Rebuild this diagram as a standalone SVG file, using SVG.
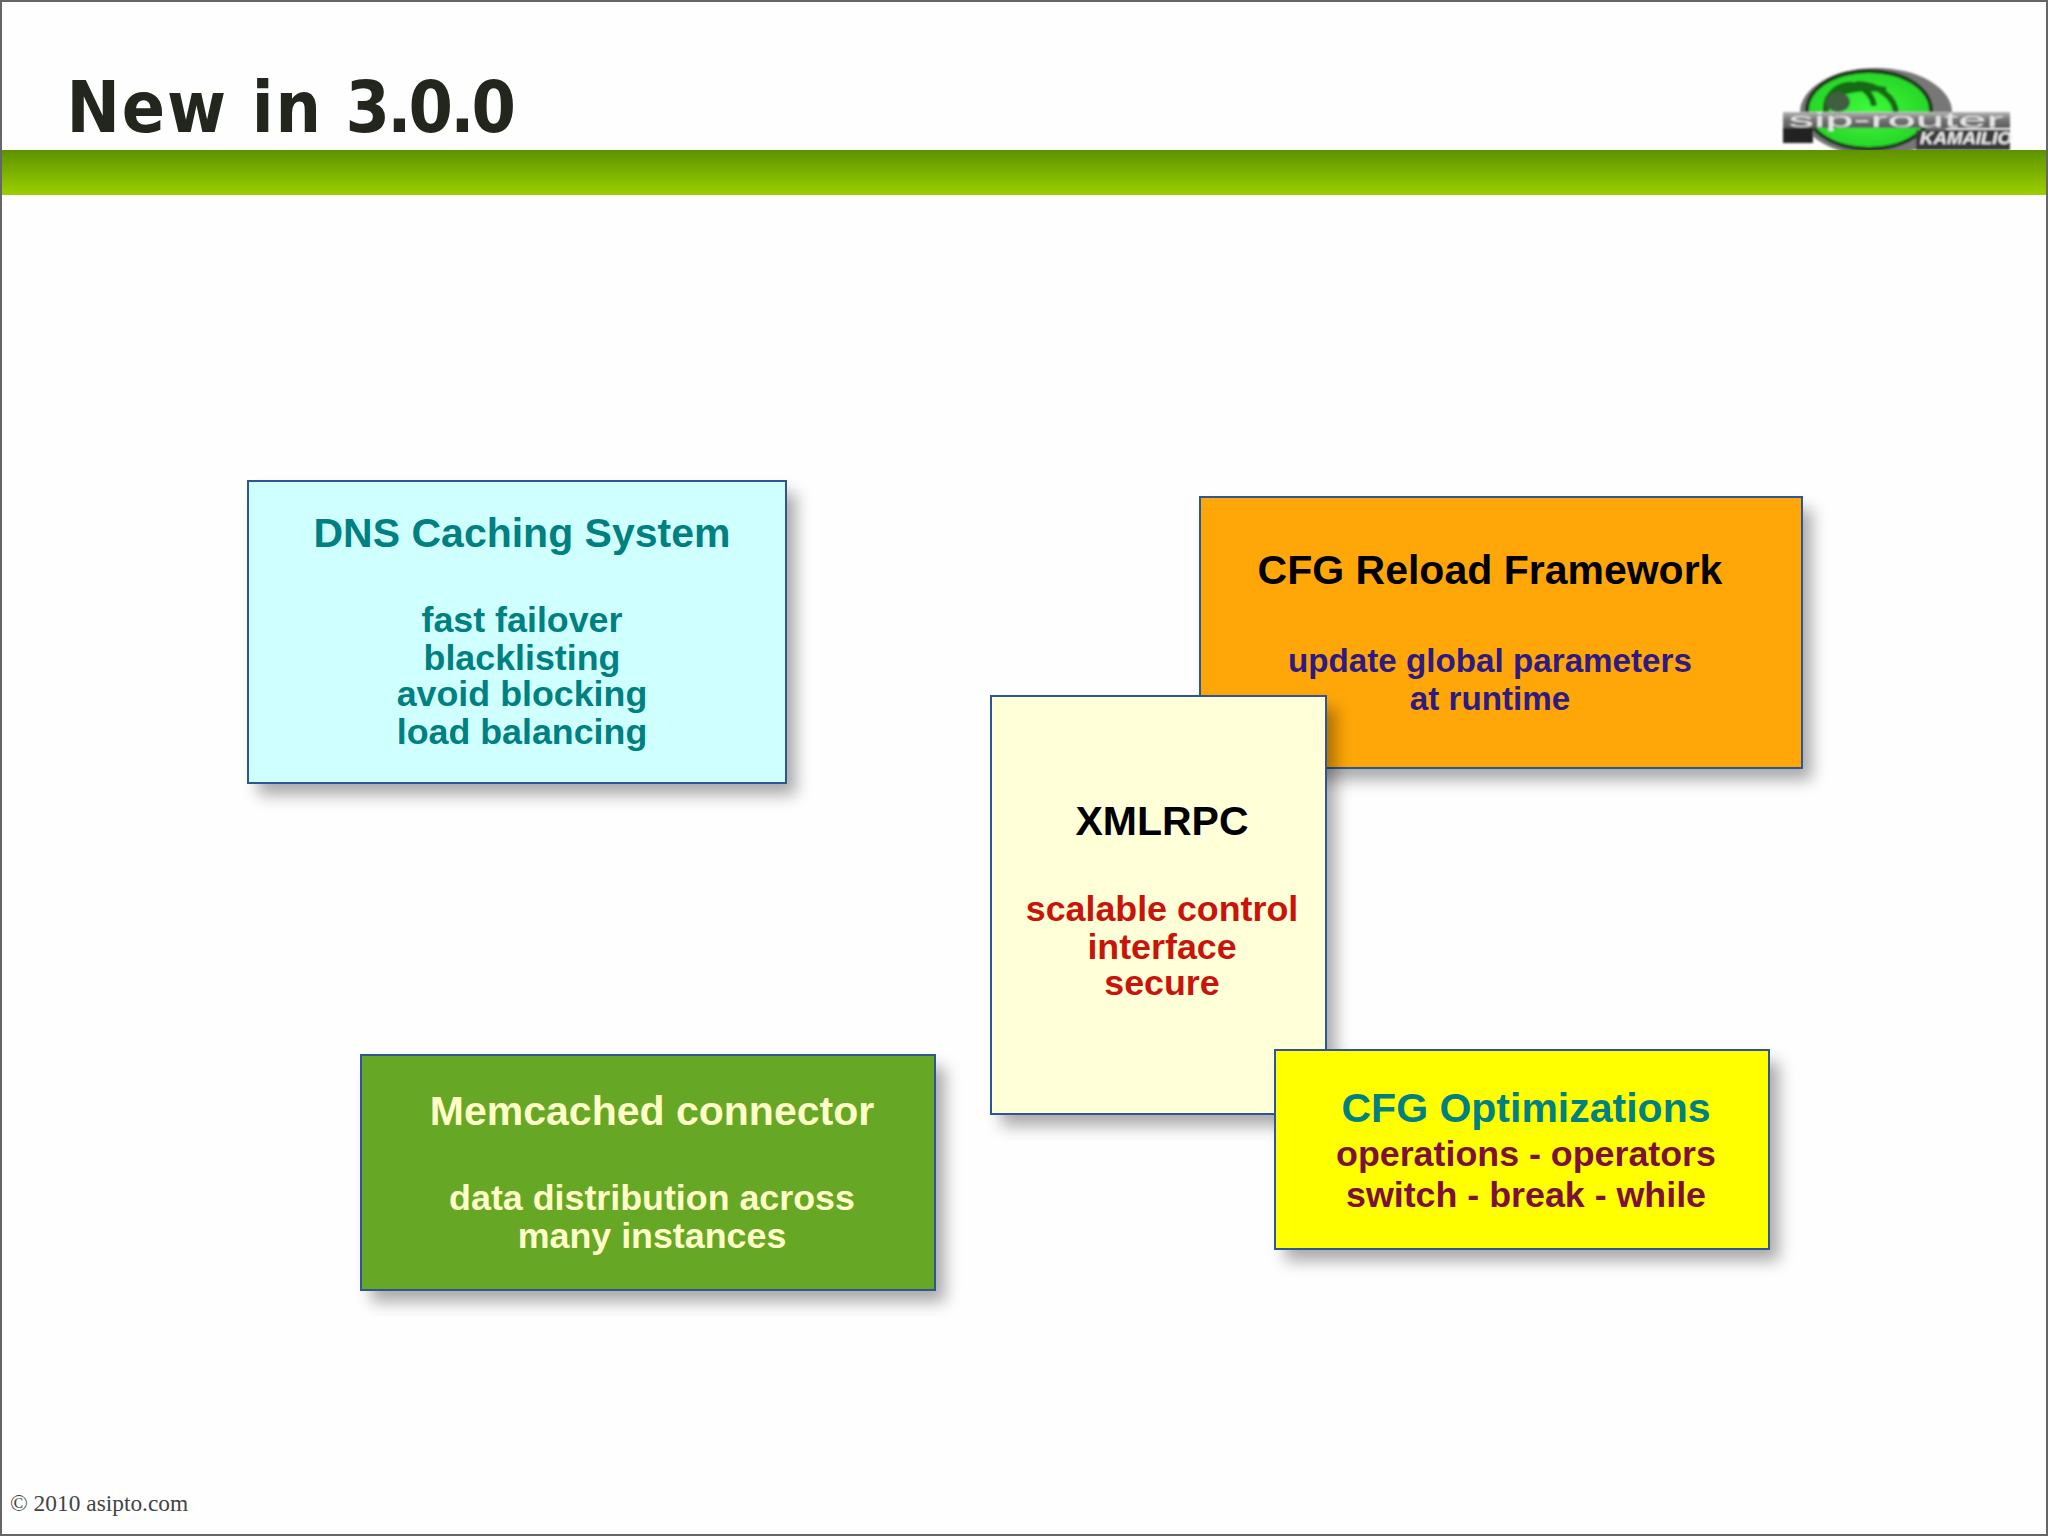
<svg xmlns="http://www.w3.org/2000/svg" width="2048" height="1536" viewBox="0 0 2048 1536">
<style>
.b{stroke:#2f5597;stroke-width:2}
.s{fill:#000;opacity:.33;filter:url(#blur)}
text{font-family:"Liberation Sans",Arial,sans-serif;font-weight:700;text-anchor:middle}
.h{font-size:41px}
.t{font-size:35.8px}
.o{font-size:33.2px}
</style>
<defs>
<linearGradient id="bar" x1="0" y1="0" x2="0" y2="1"><stop offset="0" stop-color="#5d9200"/><stop offset="1" stop-color="#9bd000"/></linearGradient>
<radialGradient id="gr" cx=".5" cy=".5" r=".6"><stop offset="0" stop-color="#3dfb3a"/><stop offset="1" stop-color="#25d025"/></radialGradient>
<linearGradient id="met" x1="0" y1="0" x2="0" y2="1"><stop offset="0" stop-color="#b8b8b8"/><stop offset=".45" stop-color="#777"/><stop offset="1" stop-color="#5a5a5a"/></linearGradient>
<filter id="blur" x="-10%" y="-10%" width="120%" height="120%"><feGaussianBlur stdDeviation="8"/></filter>
<filter id="soft" x="-5%" y="-5%" width="110%" height="110%"><feGaussianBlur stdDeviation="1"/></filter>
</defs>
<rect width="2048" height="1536" fill="#fefefe"/>
<g id="logo" filter="url(#soft)">
<ellipse cx="1876" cy="112" rx="76" ry="44" fill="#777"/>
<ellipse cx="1869" cy="110" rx="64" ry="41" fill="#1c3a1c"/>
<ellipse cx="1869" cy="110" rx="60" ry="37" fill="url(#gr)"/>
<path d="M1826 112a24 24 0 0 1 48-6M1826 100a50 26 0 0 1 60 -10M1856 84a40 30 0 0 1 40 30" fill="none" stroke="#156a15" stroke-width="6"/>
<ellipse cx="1838" cy="102" rx="12" ry="10" fill="#3f5f3f"/>
<path d="M1783 128h30v15h-30z" fill="#222"/>
<rect x="1783" y="112" width="227" height="16" fill="url(#met)"/>
<text x="1896" y="127" style="font-size:20px;font-weight:400" fill="#e6e6e6" textLength="215" lengthAdjust="spacingAndGlyphs">sip-router</text>
<path d="M1916 130h94v20h-94z" fill="#3a3a3a"/>
<text x="1966" y="144" style="font-size:17px;font-style:italic" fill="#eee" textLength="92" lengthAdjust="spacingAndGlyphs">KAMAILIO</text>
</g>
<g id="header">
<rect x="0" y="150" width="2048" height="45" fill="url(#bar)"/>
<text transform="scale(.9 1)" x="74" y="132" style="font-family:'DejaVu Sans',sans-serif;font-size:71px;text-anchor:start" fill="#22261c"><tspan letter-spacing="2">New in</tspan><tspan x="384" letter-spacing="-3.2">3.0.0</tspan></text>
</g>
<g id="connectors"></g>
<g id="dns">
<rect class="s" x="258" y="493" width="538" height="302"/>
<rect class="b" x="248" y="481" width="538" height="302" fill="#d0ffff"/>
<g fill="#008080">
<text class="h" x="522" y="547">DNS Caching System</text>
<text class="t" x="522" y="632">fast failover</text>
<text class="t" x="522" y="670">blacklisting</text>
<text class="t" x="522" y="706">avoid blocking</text>
<text class="t" x="522" y="744">load balancing</text>
</g>
</g>
<g id="cfg-reload">
<rect class="s" x="1210" y="509" width="602" height="271"/>
<rect class="b" x="1200" y="497" width="602" height="271" fill="#ffa708"/>
<text class="h" x="1490" y="584" fill="#000">CFG Reload Framework</text>
<g fill="#2e1a82">
<text class="o" x="1490" y="672">update global parameters</text>
<text class="o" x="1490" y="710">at runtime</text>
</g>
</g>
<g id="xmlrpc">
<rect class="s" x="1001" y="708" width="335" height="418"/>
<rect class="b" x="991" y="696" width="335" height="418" fill="#ffffd8"/>
<text class="h" x="1162" y="835" fill="#000">XMLRPC</text>
<g fill="#c9140c">
<text class="t" x="1162" y="921">scalable control</text>
<text class="t" x="1162" y="959">interface</text>
<text class="t" x="1162" y="995">secure</text>
</g>
</g>
<g id="memcached">
<rect class="s" x="371" y="1067" width="574" height="235"/>
<rect class="b" x="361" y="1055" width="574" height="235" fill="#66a825"/>
<g fill="#ffffc8">
<text class="h" x="652" y="1125">Memcached connector</text>
<text class="t" x="652" y="1210">data distribution across</text>
<text class="t" x="652" y="1248">many instances</text>
</g>
</g>
<g id="cfg-opt">
<rect class="s" x="1285" y="1062" width="494" height="199"/>
<rect class="b" x="1275" y="1050" width="494" height="199" fill="#ffff00"/>
<text class="h" x="1526" y="1122" fill="#008080">CFG Optimizations</text>
<g fill="#7c1038">
<text class="t" x="1526" y="1166">operations - operators</text>
<text class="t" x="1526" y="1207">switch - break - while</text>
</g>
</g>
<g id="footer">
<text x="10" y="1511" style="font-family:'Liberation Serif',serif;font-weight:400;font-size:23.4px;text-anchor:start" fill="#444">© 2010 asipto.com</text>
</g>
<rect x="1" y="1" width="2046" height="1534" fill="none" stroke="#666" stroke-width="2"/>
</svg>
